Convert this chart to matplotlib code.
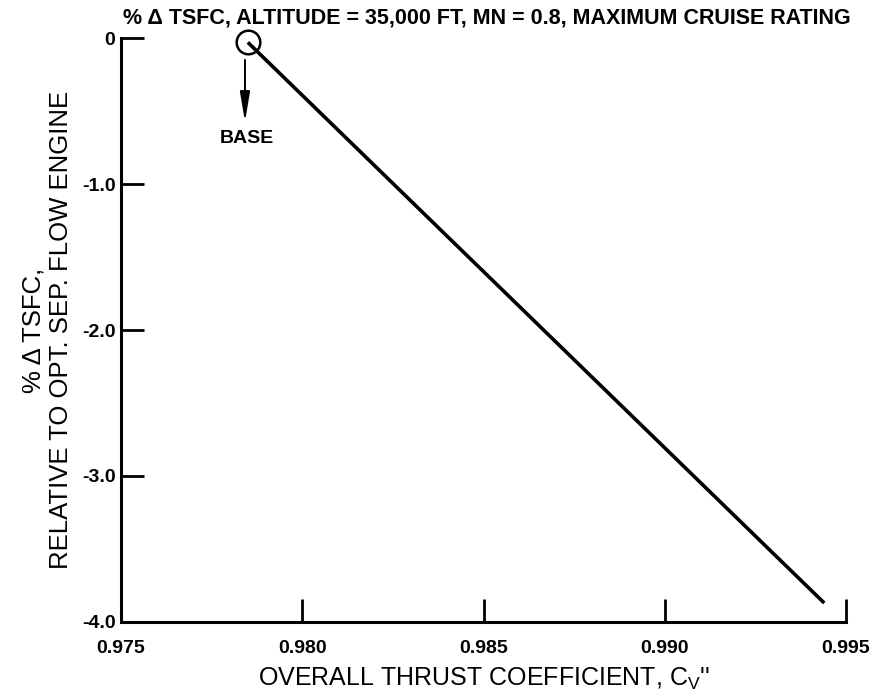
import matplotlib
matplotlib.use("Agg")
import matplotlib.pyplot as plt

plt.rcParams["font.family"] = ["Liberation Sans", "DejaVu Sans"]
plt.rcParams["mathtext.fontset"] = "custom"
plt.rcParams["mathtext.rm"] = "Liberation Sans"

# Overall thrust coefficient vs. TSFC change (base point first)
thrust_coeff = [0.9785, 0.9944]
delta_tsfc = [-0.03, -3.87]

x_ticks = [0.975, 0.980, 0.985, 0.990, 0.995]
x_tick_labels = ["0.975", "0.980", "0.985", "0.990", "0.995"]
y_ticks = [0, -1.0, -2.0, -3.0, -4.0]
y_tick_labels = ["0", "-1.0", "-2.0", "-3.0", "-4.0"]

fig = plt.figure(figsize=(8.73, 6.90), dpi=100)
ax = fig.add_axes([121 / 873, 1 - 622 / 690, (846 - 121) / 873, (622 - 38) / 690])

ax.plot(thrust_coeff, delta_tsfc, color="black", lw=2.6, solid_capstyle="butt")
ax.plot(thrust_coeff[0], delta_tsfc[0], marker="o", ms=17, mfc="none",
        mec="black", mew=1.8, clip_on=False)

# arrow pointing from the base circle down to its label
ax.annotate("", xy=(0.97842, -0.575), xytext=(0.97842, -0.15),
            arrowprops=dict(arrowstyle="-|>,head_length=1.8,head_width=0.3",
                            color="black", lw=1.4, shrinkA=0, shrinkB=0))
ax.text(0.97848, -0.685, "BASE", ha="center", va="center",
        fontsize=14, fontweight="bold")

ax.set_xlim(0.975, 0.995)
ax.set_ylim(-4.0, 0)
ax.set_xticks(x_ticks)
ax.set_xticklabels(x_tick_labels)
ax.set_yticks(y_ticks)
ax.set_yticklabels(y_tick_labels)

for side in ("top", "right"):
    ax.spines[side].set_visible(False)
for side in ("left", "bottom"):
    ax.spines[side].set_linewidth(2.2)

ax.tick_params(axis="both", direction="in", length=16.5, width=2.0,
               labelsize=14)
ax.tick_params(axis="x", pad=13)
ax.tick_params(axis="y", pad=4)
for lbl in ax.get_xticklabels() + ax.get_yticklabels():
    lbl.set_fontweight("bold")

ax.set_xlabel(r"OVERALL THRUST COEFFICIENT, C$_\mathregular{V}$''",
              fontsize=18, labelpad=6)
ax.set_ylabel("% \u0394 TSFC,\nRELATIVE TO OPT. SEP. FLOW ENGINE",
              fontsize=18.5, labelpad=6, linespacing=1.2)

fig.text(487 / 873, 1 - 18 / 690,
         "% \u0394 TSFC, ALTITUDE = 35,000 FT, MN = 0.8, MAXIMUM CRUISE RATING",
         ha="center", va="center", fontsize=15.5, fontweight="bold")

fig.savefig("out.png", dpi=100)
